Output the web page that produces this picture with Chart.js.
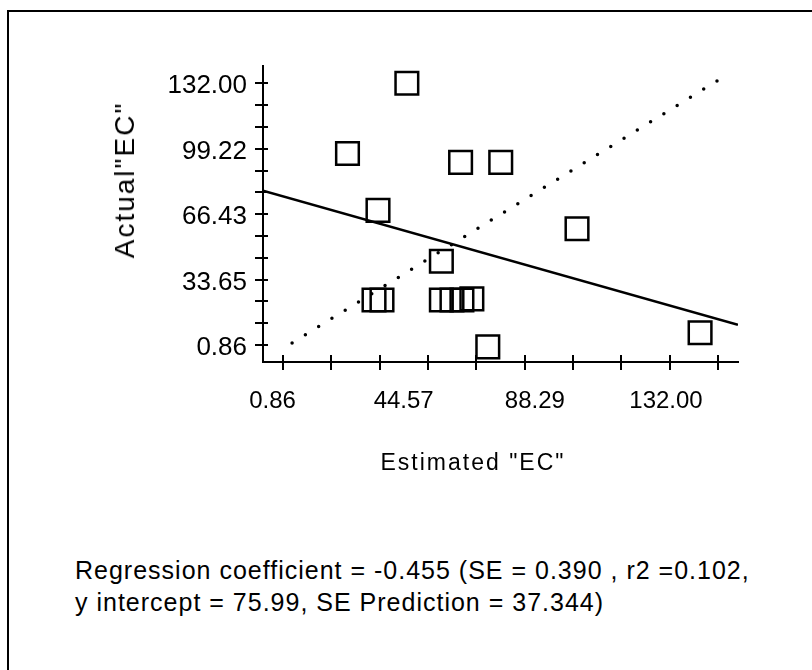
<!DOCTYPE html>
<html>
<head>
<meta charset="utf-8" />
<title>Estimated vs Actual EC</title>
<script src="https://cdn.jsdelivr.net/npm/chart.js"></script>
<style>
  body { margin: 0; background: #fff; font-family: "Liberation Sans", Arial, sans-serif; color: #000; }
  #frame { position: absolute; left: 7px; top: 10px; width: 820px; height: 680px;
           border-top: 2px solid #000; border-left: 2px solid #000; }
  #chart { position: absolute; left: 0; top: 0; }
  .ytitle { position: absolute; left: 125px; top: 180px; font-size: 28px; letter-spacing: 2px;
            transform: translate(-50%, -50%) rotate(-90deg); white-space: nowrap; }
  .xtitle { position: absolute; left: 473px; top: 462px; font-size: 23px; letter-spacing: 2px;
            transform: translate(-50%, -50%); white-space: nowrap; }
  .note { position: absolute; left: 75px; top: 554px; font-size: 25px; line-height: 32px;
          letter-spacing: 1px; white-space: nowrap; }
</style>
</head>
<body>
<div id="frame"></div>
<canvas id="chart" width="812" height="500"></canvas>
<div class="ytitle">Actual"EC"</div>
<div class="xtitle">Estimated "EC"</div>
<div class="note">Regression coefficient = -0.455 (SE = 0.390 , r2 =0.102,<br>y intercept = 75.99, SE Prediction = 37.344)</div>
<script>
// observed points (estimated EC, actual EC)
const estEC = [38.2, 20.3, 29.5, 54.4, 66.5, 89.5, 48.6, 28.3, 30.7, 48.6, 51.8, 54.8, 57.8, 62.6, 126.6];
const actEC = [132.0, 96.8, 68.3, 92.4, 92.4, 59.1, 42.8, 23.4, 23.4, 23.4, 23.4, 23.4, 24.0, -0.1, 7.0];

// fitted regression line end points and the 1:1 dotted line
const regX = [-5.17, 138.0];
const regY = [78.2, 11.0];
const oneX = [3.6, 135.0];
const oneY = [1.9, 136.6];

// axis ticks
const xTicks = [0.86, 15.43, 30.00, 44.57, 59.14, 73.71, 88.29, 102.86, 117.43, 132.00];
const xTickLabels = [0.86, 44.57, 88.29, 132.00];
const yTicks = [0.86, 11.79, 22.72, 33.65, 44.58, 55.50, 66.43, 77.36, 88.29, 99.22, 110.15, 121.07, 132.00];
const yTickLabels = [0.86, 33.65, 66.43, 99.22, 132.00];

function pairs(xs, ys) {
  return xs.map(function (x, i) { return { x: x, y: ys[i] }; });
}

const crossTicks = {
  id: 'crossTicks',
  afterDraw: function (chart) {
    const c = chart.ctx;
    const xs = chart.scales.x, ys = chart.scales.y;
    const ax = xs.left, ay = ys.bottom;
    c.save();
    c.strokeStyle = '#000';
    c.lineWidth = 2;
    c.beginPath();
    xs.ticks.forEach(function (t) {
      const px = Math.round(xs.getPixelForValue(t.value));
      c.moveTo(px, ay - 7);
      c.lineTo(px, ay + 8);
    });
    ys.ticks.forEach(function (t) {
      const py = Math.round(ys.getPixelForValue(t.value));
      c.moveTo(ax - 8, py);
      c.lineTo(ax + 5, py);
    });
    c.stroke();
    c.restore();
  }
};

const ctx = document.getElementById('chart').getContext('2d');
const myChart = new Chart(ctx, {
  type: 'scatter',
  data: {
    datasets: [{
      label: 'EC',
      data: pairs(estEC, actEC),
      pointStyle: 'rect',
      pointRadius: 16,
      pointBorderWidth: 2.5,
      pointBorderColor: '#000',
      pointBackgroundColor: 'rgba(0,0,0,0)'
    }, {
      label: 'regression',
      data: pairs(regX, regY),
      showLine: true,
      borderColor: '#000',
      borderWidth: 2.5,
      pointRadius: 0
    }, {
      label: '1:1',
      data: pairs(oneX, oneY),
      showLine: true,
      borderColor: '#000',
      borderWidth: 3.5,
      borderDash: [0, 15.6],
      borderCapStyle: 'round',
      pointRadius: 0
    }]
  },
  options: {
    responsive: false,
    animation: false,
    devicePixelRatio: 1,
    layout: { padding: { left: 0, top: 66, right: 74, bottom: 70 } },
    plugins: { legend: { display: false }, tooltip: { enabled: false } },
    scales: {
      x: {
        type: 'linear', position: 'bottom', weight: 0,
        min: -5.17, max: 138.03,
        afterBuildTicks: function (s) { s.ticks = xTicks.map(function (v) { return { value: v }; }); },
        afterFit: function (s) { s.height = 8; },
        ticks: { display: false },
        grid: { display: true, drawOnChartArea: false, drawTicks: false },
        border: { display: true, color: '#000', width: 2 }
      },
      xl: {
        type: 'linear', position: 'bottom', weight: 1,
        min: -2.31, max: 155.99,
        afterBuildTicks: function (s) { s.ticks = xTickLabels.map(function (v) { return { value: v }; }); },
        afterFit: function (s) { s.height = 60; },
        ticks: {
          padding: 17, color: '#000', maxRotation: 0, autoSkip: false,
          font: { family: 'Liberation Sans', size: 24 },
          callback: function (v) { return Number(v).toFixed(2); }
        },
        grid: { display: false, drawTicks: false, tickLength: 0 },
        border: { display: false }
      },
      y: {
        type: 'linear', position: 'left',
        min: -7.66, max: 140.67,
        afterBuildTicks: function (s) { s.ticks = yTicks.map(function (v) { return { value: v }; }); },
        afterFit: function (s) { s.width = 263; },
        ticks: {
          padding: 16, color: '#000', autoSkip: false, labelOffset: 3,
          font: { family: 'Liberation Sans', size: 26 },
          callback: function (v) {
            const hit = yTickLabels.some(function (l) { return Math.abs(l - v) < 0.01; });
            return hit ? Number(v).toFixed(2) : '';
          }
        },
        grid: { display: true, drawOnChartArea: false, drawTicks: false },
        border: { display: true, color: '#000', width: 2 }
      }
    }
  },
  plugins: [crossTicks]
});
</script>
</body>
</html>
